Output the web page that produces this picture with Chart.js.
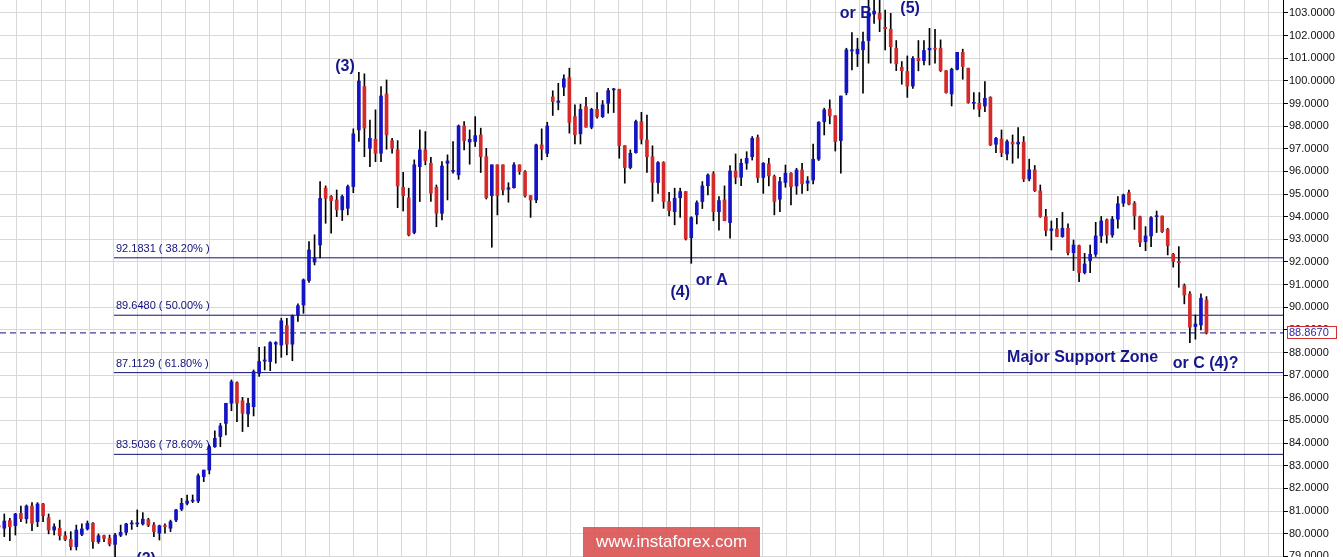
<!DOCTYPE html>
<html>
<head>
<meta charset="utf-8">
<title>Wave count</title>
<script src="https://cdn.jsdelivr.net/npm/chart.js@4.4.1/dist/chart.umd.min.js"></script>
<style>
  html, body { margin: 0; padding: 0; background: #fff; }
  #wrap { position: relative; width: 1343px; height: 557px; overflow: hidden; }
  #stamp {
    position: absolute; left: 583px; top: 527px; width: 177px; height: 30px;
    background: rgba(218, 78, 78, 0.88); color: #fff;
    font: 17px "Liberation Sans", Arial, sans-serif;
    text-align: center; line-height: 29px;
  }
</style>
</head>
<body>
<div id="wrap">
  <canvas id="chart" width="1343" height="557"></canvas>
  <div id="stamp">www.instaforex.com</div>
</div>
<script>
// candles, one entry per bar (oldest first)
const opens = [
  80.35, 80.24, 80.58, 80.35, 80.90, 80.66, 81.22, 80.53, 81.31, 80.71,
  80.16, 80.24, 79.91, 79.75, 79.43, 79.97, 80.21, 80.46, 79.65, 79.91,
  79.79, 79.53, 79.93, 80.06, 80.43, 80.43, 80.43, 80.62, 80.38, 80.02,
  80.34, 80.24, 80.60, 81.08, 81.34, 81.44, 81.44, 82.52, 82.81, 83.84,
  84.29, 84.87, 85.76, 86.67, 85.87, 85.29, 85.61, 87.08, 87.62, 87.60,
  88.37, 88.33, 89.19, 88.37, 89.66, 90.10, 91.18, 92.00, 92.75, 95.26,
  94.89, 94.74, 94.30, 94.37, 95.33, 97.83, 99.75, 97.02, 97.42, 96.80,
  99.42, 97.36, 96.95, 95.30, 94.83, 93.30, 96.21, 96.95, 96.36, 95.30,
  94.15, 96.36, 96.00, 95.85, 98.01, 97.30, 97.32, 97.61, 96.65, 94.93,
  96.29, 96.29, 95.21, 95.28, 96.29, 95.99, 94.93, 94.74, 97.17, 96.80,
  99.29, 99.05, 99.72, 100.14, 98.42, 97.66, 98.86, 97.95, 98.74, 98.42,
  99.01, 99.60, 99.63, 97.14, 96.17, 96.83, 98.20, 97.39, 96.65, 95.51,
  96.39, 94.67, 94.22, 94.84, 95.11, 93.07, 94.08, 94.67, 95.37, 95.89,
  94.22, 94.74, 93.74, 96.02, 95.74, 96.36, 96.65, 97.49, 95.73, 96.33,
  95.77, 94.77, 95.51, 95.92, 95.36, 96.06, 95.48, 95.62, 96.54, 98.20,
  98.76, 98.46, 97.36, 99.48, 101.32, 101.19, 101.37, 101.78, 102.95, 102.98,
  102.37, 102.28, 101.44, 100.60, 100.41, 99.77, 101.00, 100.89, 101.37, 101.44,
  101.44, 100.45, 99.42, 100.51, 101.26, 100.56, 99.01, 99.01, 98.89, 99.27,
  97.20, 97.43, 96.77, 97.29, 97.21, 97.29, 95.67, 96.07, 95.14, 94.00,
  93.39, 93.46, 93.12, 93.49, 92.41, 92.72, 91.53, 92.06, 92.34, 93.15,
  93.86, 93.19, 93.89, 94.60, 95.06, 94.59, 94.00, 92.90, 93.15, 94.00,
  94.03, 93.44, 92.34, 92.02, 90.96, 90.59, 89.15, 89.22, 90.32
];
const highs = [
  80.45, 80.87, 80.68, 80.90, 81.22, 81.27, 81.37, 81.37, 81.34, 80.87,
  80.43, 80.60, 80.09, 80.09, 80.38, 80.43, 80.56, 80.49, 79.99, 79.94,
  79.94, 80.02, 80.38, 80.46, 80.58, 81.05, 80.93, 80.68, 80.49, 80.38,
  80.43, 80.60, 81.08, 81.56, 81.71, 81.71, 82.64, 82.81, 83.92, 84.54,
  84.87, 85.76, 86.79, 86.71, 86.02, 85.98, 87.23, 88.23, 88.26, 88.48,
  88.48, 89.52, 89.51, 89.66, 90.15, 91.25, 92.90, 93.20, 95.55, 95.36,
  94.93, 95.18, 94.96, 95.40, 97.88, 100.38, 100.31, 98.27, 98.72, 99.75,
  100.04, 97.46, 97.36, 95.96, 95.26, 96.51, 97.83, 97.76, 96.62, 95.40,
  96.43, 96.73, 97.32, 98.05, 98.20, 97.83, 98.42, 97.91, 97.02, 96.29,
  96.29, 96.29, 95.50, 96.39, 96.29, 96.04, 94.93, 97.21, 97.88, 98.17,
  99.56, 99.89, 100.26, 100.56, 98.94, 98.97, 99.27, 98.79, 99.48, 99.13,
  99.67, 99.67, 99.63, 97.14, 96.95, 98.27, 98.61, 98.49, 97.13, 96.43,
  96.43, 95.08, 95.26, 95.26, 95.11, 94.00, 94.70, 95.55, 95.89, 95.99,
  94.89, 95.36, 96.26, 96.77, 96.54, 96.87, 97.54, 97.61, 96.39, 96.58,
  95.84, 95.74, 96.28, 95.95, 96.14, 96.36, 95.77, 97.21, 98.20, 98.79,
  99.16, 98.46, 99.33, 101.44, 102.13, 101.88, 102.15, 103.70, 103.70, 103.65,
  103.13, 102.98, 101.78, 100.85, 101.10, 101.07, 101.78, 101.78, 102.32, 102.28,
  101.81, 100.45, 100.56, 101.26, 101.40, 100.56, 99.48, 99.48, 99.97, 99.30,
  97.51, 97.83, 97.39, 97.61, 97.93, 97.54, 96.54, 96.26, 95.40, 94.33,
  93.81, 93.93, 94.19, 93.68, 92.97, 92.75, 92.38, 92.75, 93.75, 94.01,
  93.90, 94.01, 94.89, 95.00, 95.18, 94.67, 94.03, 93.56, 94.00, 94.25,
  94.03, 93.49, 92.38, 92.68, 91.03, 90.69, 89.66, 90.59, 90.47
];
const lows = [
  80.00, 79.87, 79.69, 79.94, 80.53, 80.46, 80.13, 80.31, 80.53, 79.99,
  79.94, 79.72, 79.69, 79.28, 79.28, 79.91, 80.16, 79.35, 79.57, 79.65,
  79.46, 78.90, 79.87, 79.94, 80.19, 80.31, 80.38, 80.31, 79.87, 79.72,
  80.02, 80.09, 80.53, 81.02, 81.27, 81.37, 81.37, 82.30, 82.64, 83.81,
  83.84, 84.36, 85.43, 84.95, 84.51, 84.73, 85.20, 86.94, 87.23, 87.20,
  87.53, 87.79, 87.89, 87.64, 89.37, 89.73, 91.10, 91.87, 92.18, 93.71,
  93.27, 94.00, 93.83, 94.08, 95.06, 97.32, 96.65, 96.21, 96.43, 96.43,
  96.98, 96.80, 94.40, 94.25, 93.15, 93.24, 94.67, 96.29, 94.67, 93.56,
  93.86, 94.74, 95.92, 95.65, 96.95, 96.32, 97.10, 95.95, 94.78, 92.65,
  94.08, 94.96, 94.64, 95.26, 95.87, 94.86, 93.97, 94.62, 96.51, 96.65,
  98.47, 98.72, 99.35, 97.69, 97.21, 97.21, 97.95, 97.88, 98.35, 98.38,
  98.57, 98.60, 96.58, 95.48, 96.11, 96.80, 97.21, 95.95, 94.67, 95.03,
  94.37, 94.03, 93.64, 93.97, 92.97, 91.94, 93.68, 94.36, 94.96, 93.82,
  93.41, 93.82, 93.05, 95.45, 95.37, 96.09, 96.50, 95.51, 95.03, 95.36,
  94.08, 94.22, 95.30, 94.52, 94.99, 95.03, 95.15, 95.45, 96.48, 97.61,
  98.10, 96.90, 95.92, 99.38, 100.48, 100.63, 99.45, 100.78, 102.54, 102.17,
  101.37, 100.78, 100.45, 99.85, 99.27, 99.67, 100.44, 100.70, 100.70, 100.78,
  100.41, 99.45, 98.89, 100.48, 100.07, 99.01, 98.75, 98.42, 98.64, 97.14,
  96.83, 96.65, 96.51, 96.36, 96.58, 95.55, 95.58, 95.11, 93.97, 93.15,
  92.53, 93.12, 93.09, 92.31, 91.62, 91.13, 91.47, 91.53, 92.24, 92.86,
  92.83, 93.09, 93.49, 94.45, 94.52, 93.44, 92.68, 92.50, 92.68, 93.30,
  93.30, 92.31, 91.77, 90.88, 90.15, 88.44, 88.59, 89.00, 88.82
];
const closes = [
  80.30, 80.56, 80.31, 80.87, 80.66, 81.22, 80.46, 81.31, 80.80, 80.16,
  80.31, 79.91, 79.75, 79.43, 80.16, 80.21, 80.46, 79.65, 79.91, 79.79,
  79.54, 79.94, 80.06, 80.43, 80.46, 80.46, 80.64, 80.37, 80.09, 80.35,
  80.31, 80.53, 81.05, 81.34, 81.44, 81.46, 82.56, 82.81, 83.84, 84.21,
  84.76, 85.76, 86.71, 85.76, 85.32, 85.76, 87.16, 87.60, 87.67, 88.44,
  88.44, 89.40, 88.37, 89.63, 90.07, 91.21, 92.53, 92.18, 94.81, 94.81,
  94.71, 94.30, 94.89, 95.33, 97.66, 99.99, 97.91, 97.46, 96.80, 99.33,
  97.61, 97.02, 95.36, 94.93, 93.19, 96.29, 96.95, 96.48, 95.04, 94.15,
  96.24, 96.46, 96.04, 98.01, 97.36, 97.42, 97.58, 96.65, 94.84, 96.29,
  94.93, 95.18, 95.28, 96.29, 95.99, 94.92, 94.74, 97.17, 96.99, 98.01,
  99.08, 99.11, 100.09, 98.16, 97.61, 98.74, 97.95, 98.74, 98.42, 98.94,
  99.57, 99.63, 97.14, 96.17, 96.80, 98.20, 97.42, 96.65, 95.51, 96.39,
  94.67, 94.27, 94.81, 95.11, 93.02, 93.96, 94.62, 95.36, 95.84, 94.22,
  94.71, 93.82, 96.02, 95.74, 96.36, 96.58, 97.46, 95.73, 96.36, 95.80,
  94.67, 95.55, 95.92, 95.33, 96.06, 95.45, 95.58, 96.54, 98.17, 98.72,
  98.45, 97.32, 99.33, 101.37, 101.37, 101.40, 101.73, 103.00, 103.08, 102.72,
  102.30, 101.51, 100.75, 100.45, 99.77, 100.99, 100.89, 101.34, 101.44, 101.40,
  100.45, 99.48, 100.51, 101.26, 100.63, 99.04, 99.05, 98.75, 99.23, 97.17,
  97.46, 96.83, 97.32, 97.21, 97.29, 95.67, 96.07, 95.15, 94.00, 93.39,
  93.46, 93.12, 93.49, 92.41, 92.75, 91.53, 91.91, 92.34, 93.15, 93.81,
  93.19, 93.89, 94.57, 94.96, 94.55, 94.05, 92.87, 93.15, 93.96, 94.03,
  93.34, 92.72, 92.02, 91.97, 90.54, 89.12, 89.26, 90.40, 88.867
];

// fibonacci retracement levels drawn on the chart
const fibLevels = [92.1831, 89.6480, 87.1129, 83.5036];
const fibLabels = ['92.1831 ( 38.20% )', '89.6480 ( 50.00% )', '87.1129 ( 61.80% )', '83.5036 ( 78.60% )'];
const lastPrice = 88.867;

// wave labels, placed in (bar index, price) coordinates
const waveNotes = [
  { text: '(2)', x: 26.6, y: 78.84 },
  { text: '(3)', x: 62.5, y: 100.61 },
  { text: '(4)', x: 123.0, y: 90.63 },
  { text: 'or A', x: 128.7, y: 91.16 },
  { text: 'or B', x: 154.7, y: 102.96 },
  { text: '(5)', x: 164.5, y: 103.18 },
  { text: 'Major Support Zone', x: 182.0, y: 87.76, align: 'left' },
  { text: 'or C (4)?', x: 211.9, y: 87.50, align: 'left' }
];

// axis window
const X_MIN = 0.224;
const X_MAX = 231.81;
const Y_MIN = 78.97;
const Y_MAX = 103.57;
const FIB_START = 20.8;
// vertical (time) grid lines, in bar units
const GRID_X0 = 3.292;
const GRID_DX = 4.343;

const BLUE = '#1414c4';
const RED = '#d42a2a';
const NAVY = '#101078';
const FONT = '"Liberation Sans", Arial, sans-serif';

const wickData = opens.map((o, i) => ({ x: i, y: [lows[i], highs[i]] }));
const bodyData = opens.map((o, i) => ({ x: i, y: [o, closes[i]] }));

function bodyColor(c) {
  const i = c.dataIndex;
  return closes[i] >= opens[i] ? BLUE : RED;
}

const lineSets = fibLevels.map(v => ({
  type: 'line',
  data: [{ x: FIB_START, y: v }, { x: X_MAX, y: v }],
  borderColor: NAVY,
  borderWidth: 1,
  pointRadius: 0,
  tension: 0
}));
lineSets.push({
  type: 'line',
  data: [{ x: X_MIN, y: lastPrice }, { x: X_MAX, y: lastPrice }],
  borderColor: NAVY,
  borderWidth: 1,
  borderDash: [6, 4],
  pointRadius: 0,
  tension: 0
});

const overlay = {
  id: 'overlay',
  afterDatasetsDraw(chart) {
    const { ctx, scales } = chart;
    const xs = scales.x, ys = scales.y;
    ctx.save();
    ctx.fillStyle = NAVY;
    ctx.font = '11px ' + FONT;
    ctx.textAlign = 'left';
    ctx.textBaseline = 'alphabetic';
    fibLevels.forEach((v, i) => {
      ctx.fillText(fibLabels[i], xs.getPixelForValue(FIB_START) + 2, ys.getPixelForValue(v) - 6);
    });
    ctx.fillStyle = '#16168c';
    ctx.font = 'bold 16px ' + FONT;
    ctx.textBaseline = 'middle';
    waveNotes.forEach(n => {
      ctx.textAlign = n.align || 'center';
      ctx.fillText(n.text, xs.getPixelForValue(n.x), ys.getPixelForValue(n.y));
    });
    ctx.restore();
  },
  afterDraw(chart) {
    // last price tag on the axis
    const { ctx, chartArea, scales } = chart;
    const py = Math.round(scales.y.getPixelForValue(lastPrice));
    const left = chartArea.right + 4;
    ctx.save();
    ctx.fillStyle = '#fff';
    ctx.fillRect(left, py - 6, 49, 12);
    ctx.strokeStyle = '#d03030';
    ctx.lineWidth = 1;
    ctx.strokeRect(left + 0.5, py - 6.5, 49, 12);
    ctx.fillStyle = '#2828a8';
    ctx.font = '11px ' + FONT;
    ctx.textAlign = 'left';
    ctx.textBaseline = 'middle';
    ctx.fillText(lastPrice.toFixed(4), left + 2, py);
    ctx.restore();
  }
};

new Chart(document.getElementById('chart'), {
  type: 'bar',
  data: {
    datasets: [
      {
        data: bodyData,
        backgroundColor: bodyColor,
        barThickness: 3,
        minBarLength: 1,
        grouped: false
      },
      {
        data: wickData,
        backgroundColor: '#000',
        barThickness: 1,
        grouped: false
      },
      ...lineSets
    ]
  },
  options: {
    responsive: false,
    animation: false,
    devicePixelRatio: 1,
    layout: { padding: 0 },
    plugins: { legend: { display: false }, tooltip: { enabled: false } },
    scales: {
      x: {
        type: 'linear',
        min: X_MIN,
        max: X_MAX,
        offset: false,
        border: { display: false },
        grid: { color: '#d8d8d8', lineWidth: 1, drawTicks: false, offset: false },
        ticks: { display: false },
        afterBuildTicks: axis => {
          const t = [];
          for (let v = GRID_X0; v <= X_MAX; v += GRID_DX) t.push({ value: v });
          axis.ticks = t;
        },
        afterFit: axis => {
          axis.height = 0;
          axis.paddingLeft = 0; axis.paddingRight = 0;
        }
      },
      y: {
        position: 'right',
        min: Y_MIN,
        max: Y_MAX,
        border: { display: true, color: '#000', width: 1 },
        grid: { color: '#d8d8d8', lineWidth: 1, tickColor: '#000', tickLength: 5 },
        ticks: {
          stepSize: 1,
          includeBounds: false,
          padding: 1,
          color: '#111',
          font: { family: FONT, size: 11 },
          callback: v => Number(v).toFixed(4)
        },
        afterFit: axis => {
          axis.width = 60;
          axis.paddingTop = 0; axis.paddingBottom = 0;
        }
      }
    }
  },
  plugins: [overlay]
});
</script>
</body>
</html>
